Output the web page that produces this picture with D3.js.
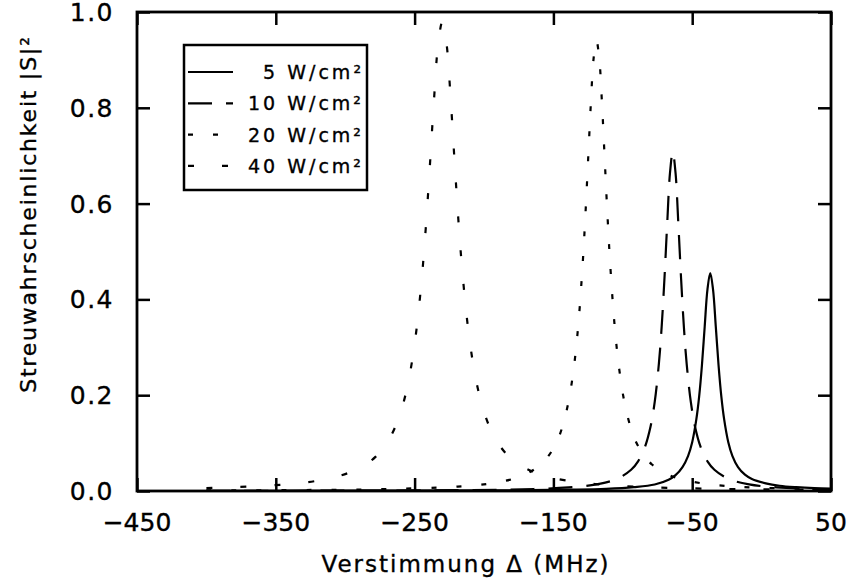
<!DOCTYPE html>
<html>
<head>
<meta charset="utf-8">
<script src="https://cdn.jsdelivr.net/npm/d3@7"></script>
<style>
body{margin:0;background:#fff}
text{font-family:"DejaVu Sans",sans-serif;fill:#000;stroke:#000;stroke-width:0.35px}
</style>
</head>
<body>
<svg id="chart" width="850" height="587"></svg>
<script>
var xTicks = [-450, -350, -250, -150, -50, 50]
var yTicks = [0, 0.2, 0.4, 0.6, 0.8, 1.0]
var labels = ["5 W/cm²", "10 W/cm²", "20 W/cm²", "40 W/cm²"]

// [Verstimmung MHz, |S|^2]
var s5 = [[-400,0.0004],[-287,0.0006],[-187,0.0013],[-137,0.0028],[-112,0.0045],[-92,0.008],[-77,0.0135],[-67,0.0235],[-62,0.033],[-57,0.050],[-53,0.073],[-50,0.102],[-47,0.150],[-45,0.197],[-43,0.262],[-41,0.343],[-39,0.421],[-37,0.455],[-35,0.421],[-33,0.343],[-31,0.262],[-29,0.197],[-27,0.150],[-24,0.102],[-21,0.073],[-17,0.050],[-12,0.034],[-7,0.025],[3,0.016],[13,0.011],[25,0.008],[38,0.006],[50,0.005]]
var s10 = [[-400,0.0004],[-314,0.0007],[-214,0.0019],[-164,0.0042],[-139,0.0075],[-119,0.0138],[-104,0.0256],[-94,0.0443],[-89,0.062],[-84,0.0924],[-80,0.1346],[-77,0.186],[-74,0.266],[-72,0.343],[-70,0.443],[-68,0.559],[-66,0.664],[-64,0.708],[-62,0.664],[-60,0.559],[-58,0.443],[-56,0.343],[-54,0.266],[-51,0.186],[-48,0.1346],[-44,0.0924],[-39,0.062],[-34,0.0443],[-24,0.0256],[-9,0.0138],[11,0.0075],[36,0.0042],[50,0.0033]]
var s20 = [[-400,0.0012],[-319,0.0023],[-269,0.0042],[-219,0.0093],[-194,0.0164],[-174,0.0301],[-159,0.0553],[-149,0.094],[-144,0.1297],[-139,0.188],[-135,0.264],[-132,0.349],[-129,0.470],[-127,0.573],[-125,0.691],[-123,0.810],[-121,0.904],[-119,0.94],[-117,0.904],[-115,0.810],[-113,0.691],[-111,0.573],[-109,0.470],[-106,0.349],[-103,0.264],[-99,0.188],[-94,0.1297],[-89,0.094],[-79,0.0553],[-64,0.0301],[-44,0.0164],[-19,0.0093],[31,0.0042],[50,0.0035]]
var s40 = [[-400,0.0061],[-340,0.0145],[-310,0.0271],[-290,0.0472],[-278,0.0718],[-268,0.1099],[-260,0.165],[-254,0.2356],[-249,0.3288],[-245,0.4385],[-242,0.547],[-239,0.679],[-236,0.818],[-233,0.934],[-230,0.98],[-227,0.934],[-224,0.818],[-221,0.679],[-218,0.547],[-215,0.4385],[-211,0.3288],[-206,0.2356],[-200,0.165],[-192,0.1099],[-182,0.0718],[-170,0.0472],[-150,0.0271],[-120,0.0145],[-80,0.0079],[-30,0.0044],[50,0.0023]]

var series = [s5, s10, s20, s40]
var dashes = ["none", "24,14", "5,20", "6,28"]

var dim = {left: 137, right: 831, top: 12, bottom: 491}

var svg = d3.select("#chart")

var xScale = d3.scaleLinear().domain([-450, 50]).range([dim.left, dim.right])
var yScale = d3.scaleLinear().domain([0, 1]).range([dim.bottom, dim.top])

svg.append("clipPath").attr("id", "clip")
   .append("rect")
   .attr("x", dim.left).attr("y", dim.top)
   .attr("width", dim.right - dim.left).attr("height", dim.bottom - dim.top)

var line = d3.line()
             .x(d => xScale(d[0]))
             .y(d => yScale(d[1]))
             .curve(d3.curveCatmullRom.alpha(0.5))

svg.append("g").attr("clip-path", "url(#clip)")
   .selectAll("path")
   .data(series)
   .enter()
   .append("path")
   .attr("d", d => line(d))
   .attr("fill", "none")
   .attr("stroke", "#000")
   .attr("stroke-width", 2.2)
   .attr("stroke-dasharray", (d, i) => dashes[i])

// axes: ticks inside on all four sides
var tl = 13
svg.append("g").attr("transform", `translate(0,${dim.bottom})`)
   .call(d3.axisBottom(xScale).tickValues(xTicks).tickSize(-tl).tickFormat(""))
svg.append("g").attr("transform", `translate(0,${dim.top})`)
   .call(d3.axisTop(xScale).tickValues(xTicks).tickSize(-tl).tickFormat(""))
svg.append("g").attr("transform", `translate(${dim.left},0)`)
   .call(d3.axisLeft(yScale).tickValues(yTicks).tickSize(-tl).tickFormat(""))
svg.append("g").attr("transform", `translate(${dim.right},0)`)
   .call(d3.axisRight(yScale).tickValues(yTicks).tickSize(-tl).tickFormat(""))
svg.selectAll(".domain").remove()
svg.selectAll(".tick line").attr("stroke", "#000").attr("stroke-width", 2.5)

svg.append("rect")
   .attr("x", dim.left).attr("y", dim.top)
   .attr("width", dim.right - dim.left).attr("height", dim.bottom - dim.top)
   .attr("fill", "none").attr("stroke", "#000").attr("stroke-width", 2.8)

// tick labels
svg.append("g").selectAll("text")
   .data(xTicks).enter().append("text")
   .attr("x", d => xScale(d)).attr("y", 531)
   .attr("text-anchor", "middle")
   .style("font-size", "25px")
   .text(d => d < 0 ? "\u2212" + Math.abs(d) : d)

svg.append("g").selectAll("text")
   .data(yTicks).enter().append("text")
   .attr("x", 114).attr("y", d => yScale(d) + 9)
   .attr("text-anchor", "end")
   .style("font-size", "25px").style("letter-spacing", "1.5px")
   .text(d => d.toFixed(1))

svg.append("text")
   .attr("x", 466).attr("y", 572)
   .attr("text-anchor", "middle")
   .style("font-size", "23px").style("letter-spacing", "2px")
   .text("Verstimmung Δ (MHz)")

svg.append("text")
   .attr("transform", "translate(36,214) rotate(-90)")
   .attr("text-anchor", "middle")
   .style("font-size", "22px").style("letter-spacing", "1.8px")
   .text("Streuwahrscheinlichkeit |S|²")

// legend
var lg = svg.append("g")
lg.append("rect")
  .attr("x", 184).attr("y", 45).attr("width", 183).attr("height", 145)
  .attr("fill", "#fff").attr("stroke", "#000").attr("stroke-width", 2.5)

var rows = lg.selectAll("g.row").data(labels).enter().append("g")
             .attr("transform", (d, i) => `translate(0,${72 + i * 31.3})`)
rows.append("line")
    .attr("x1", 188).attr("x2", 233).attr("y1", 0).attr("y2", 0)
    .attr("stroke", "#000").attr("stroke-width", 2.2)
    .attr("stroke-dasharray", (d, i) => dashes[i])
rows.append("text")
    .attr("x", 364).attr("y", 7)
    .attr("text-anchor", "end")
    .style("font-size", "19px").style("letter-spacing", "3px")
    .text(d => d)
</script>
</body>
</html>
